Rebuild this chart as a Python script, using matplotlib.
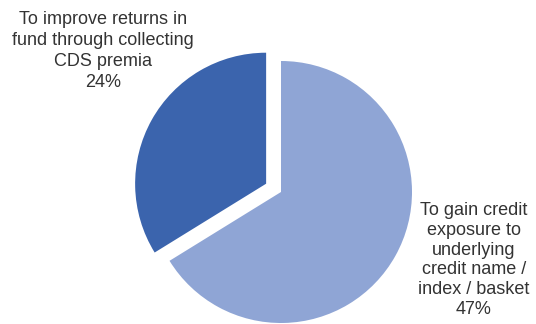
import matplotlib
matplotlib.use("Agg")
import matplotlib.pyplot as plt

categories = ["To gain credit\nexposure to\nunderlying\ncredit name /\nindex / basket",
              "To improve returns in\nfund through collecting\nCDS premia"]
values = [47, 24]
colors = ["#8FA5D5", "#3B64AD"]
explode = [0, 0.13]

plt.rcParams['font.family'] = ['Liberation Sans', 'DejaVu Sans']

W, H = 536, 324
fig = plt.figure(figsize=(W / 100, H / 100), dpi=100)
ax = fig.add_axes([0, 0, 1, 1])

ax.pie(values, colors=colors, explode=explode, startangle=90,
       counterclock=False, radius=1.0,
       wedgeprops=dict(linewidth=0))

# pixel geometry: centre (281, 192 from top), radius 131 px
R = 131.0
cx, cy = 281.0, H - 192.0
ax.set_xlim(-cx / R, (W - cx) / R)
ax.set_ylim(-cy / R, (H - cy) / R)
ax.set_aspect('auto')
ax.axis('off')

labels = [f"{c}\n{v}%" for c, v in zip(categories, values)]
txt_kw = dict(ha='center', va='center', fontsize=13, color='#333333')
fig.text(474 / W, 1 - 260 / H, labels[0], linespacing=1.22, **txt_kw)
fig.text(103 / W, 1 - 51 / H, labels[1], linespacing=1.32, **txt_kw)

fig.savefig("out.png", dpi=100)
